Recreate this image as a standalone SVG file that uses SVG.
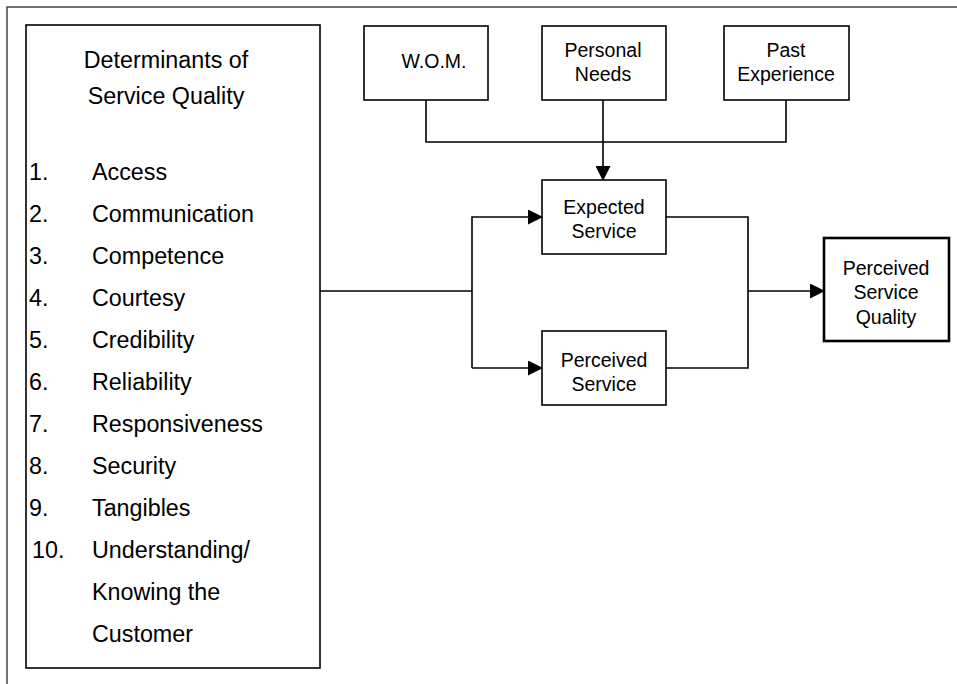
<svg xmlns="http://www.w3.org/2000/svg" width="957" height="684" viewBox="0 0 957 684">
<defs>
<marker id="arr" markerWidth="15" markerHeight="15" refX="14" refY="7.5" orient="auto" markerUnits="userSpaceOnUse">
<path d="M0,0 L15,7.5 L0,15 Z" fill="#000"/>
</marker>
</defs>
<style>
.box{fill:#fff;stroke:#000;stroke-width:1.6}
.thick{stroke-width:2.6}
.ln{fill:none;stroke:#000;stroke-width:1.6}
.t{font-family:"Liberation Sans",Arial,sans-serif;font-size:19.5px;fill:#000;text-anchor:middle}
.l{font-family:"Liberation Sans",Arial,sans-serif;font-size:23.3px;fill:#000}
.h{font-family:"Liberation Sans",Arial,sans-serif;font-size:23.3px;fill:#000;text-anchor:middle}
</style>
<rect width="957" height="684" fill="#fff"/>
<path d="M7,684 L7,7 L957,7" fill="none" stroke="#444" stroke-width="1.5"/>
<g id="determinants">
<rect class="box" x="26" y="25" width="294" height="643"/>
<text class="h" x="166" y="68">Determinants of</text>
<text class="h" x="166" y="104">Service Quality</text>
<text class="l" x="29" y="180">1.</text><text class="l" x="92" y="180">Access</text>
<text class="l" x="29" y="222">2.</text><text class="l" x="92" y="222">Communication</text>
<text class="l" x="29" y="264">3.</text><text class="l" x="92" y="264">Competence</text>
<text class="l" x="29" y="306">4.</text><text class="l" x="92" y="306">Courtesy</text>
<text class="l" x="29" y="348">5.</text><text class="l" x="92" y="348">Credibility</text>
<text class="l" x="29" y="390">6.</text><text class="l" x="92" y="390">Reliability</text>
<text class="l" x="29" y="432">7.</text><text class="l" x="92" y="432">Responsiveness</text>
<text class="l" x="29" y="474">8.</text><text class="l" x="92" y="474">Security</text>
<text class="l" x="29" y="516">9.</text><text class="l" x="92" y="516">Tangibles</text>
<text class="l" x="32" y="558">10.</text><text class="l" x="92" y="558">Understanding/</text>
<text class="l" x="92" y="600">Knowing the</text>
<text class="l" x="92" y="642">Customer</text>
</g>
<g id="wom">
<rect class="box" x="364" y="26" width="124" height="74"/>
<text class="t" x="434" y="68">W.O.M.</text>
</g>
<g id="personal-needs">
<rect class="box" x="542" y="26" width="124" height="74"/>
<text class="t" x="603" y="57">Personal</text>
<text class="t" x="603" y="81">Needs</text>
</g>
<g id="past-experience">
<rect class="box" x="724" y="26" width="125" height="74"/>
<text class="t" x="786" y="57">Past</text>
<text class="t" x="786" y="81">Experience</text>
</g>
<g id="expected-service">
<rect class="box" x="542" y="180" width="124" height="74"/>
<text class="t" x="604" y="214">Expected</text>
<text class="t" x="604" y="238">Service</text>
</g>
<g id="perceived-service">
<rect class="box" x="542" y="331" width="124" height="74"/>
<text class="t" x="604" y="367">Perceived</text>
<text class="t" x="604" y="391">Service</text>
</g>
<g id="perceived-service-quality">
<rect class="box thick" x="824" y="238" width="125" height="103"/>
<text class="t" x="886" y="275">Perceived</text>
<text class="t" x="886" y="299">Service</text>
<text class="t" x="886" y="324">Quality</text>
</g>
<g id="connectors">
<path class="ln" d="M426,100 L426,142 L786,142 L786,100"/>
<path class="ln" d="M603,100 L603,180" marker-end="url(#arr)"/>
<path class="ln" d="M320,291 L472,291"/>
<path class="ln" d="M472,368 L472,217 L542,217" marker-end="url(#arr)"/>
<path class="ln" d="M472,368 L542,368" marker-end="url(#arr)"/>
<path class="ln" d="M666,217 L748,217 L748,368 L666,368"/>
<path class="ln" d="M748,291 L824,291" marker-end="url(#arr)"/>
</g>
</svg>
